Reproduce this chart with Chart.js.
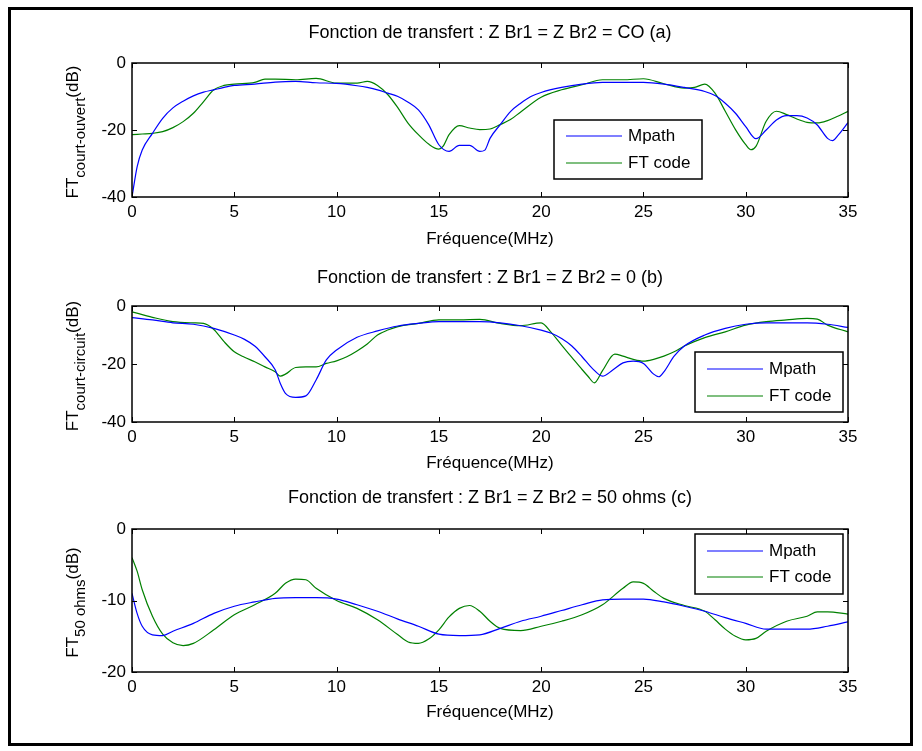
<!DOCTYPE html>
<html>
<head>
<meta charset="utf-8">
<title>Fonction de transfert</title>
<script src="https://cdn.jsdelivr.net/npm/chart.js@4.4.1/dist/chart.umd.min.js"></script>
<style>
    html, body { margin: 0; padding: 0; background: #fff; }
    #figure { position: relative; width: 922px; height: 751px; overflow: hidden; background: #fff; }
    #frame { position: absolute; left: 8px; top: 7px; width: 905px; height: 739px;
             border: 3px solid #000; box-sizing: border-box; }
    canvas { position: absolute; left: 0; }
</style>
</head>
<body>
<div id="figure">
    <div id="frame"></div>
    <canvas id="chartCO" width="922" height="256" style="top:0px"></canvas>
    <canvas id="chartCC" width="922" height="222" style="top:256px"></canvas>
    <canvas id="chart50" width="922" height="273" style="top:478px"></canvas>
</div>
<script>
// Tick labels shared by the three plots
const freqTicks = [0, 5, 10, 15, 20, 25, 30, 35];
const dbTicks40 = [-40, -20, 0];
const dbTicks20 = [-20, -10, 0];
const seriesNames = ['Mpath', 'FT code'];

// (a) ZBr1 = ZBr2 = CO
const coMpathFreq = [0, 0.25, 0.5, 1, 1.5, 2, 2.5, 3, 3.5, 4, 4.5, 5, 6, 7, 8, 9, 10, 11, 11.5, 12,
    12.5, 13, 13.5, 14, 14.5, 15, 15.5, 16, 16.5, 17, 17.25, 17.5, 18, 18.5, 19, 19.5, 20, 21, 22, 23,
    24, 25, 26, 27, 28, 28.5, 29, 29.5, 30, 30.5, 31, 31.5, 32, 32.5, 33, 33.5, 34, 34.25, 34.5, 35];
const coMpathDb = [-40, -31, -26, -21, -16.5, -13.4, -11.4, -9.8, -8.7, -8, -7.3, -6.7, -6.3, -5.7, -5.5, -5.9, -6.1, -6.8, -7.3, -8,
    -9, -10, -11.7, -14, -18.4, -24.4, -26.4, -24.6, -24.6, -26.4, -26, -22.5, -18.4, -14.5, -12, -10, -8.8, -7.3, -6.3, -5.8,
    -5.8, -5.8, -6.3, -7.3, -8.5, -9.7, -12, -15, -19, -22.6, -20, -17, -15.7, -15.7, -16.4, -18.5, -22.5, -23.2, -21.7, -17.8];
const coFtFreq = [0, 0.5, 1, 1.5, 2, 2.5, 3, 3.5, 4, 4.5, 5, 6, 6.5, 7, 8, 9, 10, 11, 11.5, 12,
    12.5, 13, 13.5, 14, 14.5, 15, 15.2, 15.5, 16, 16.5, 17, 17.5, 18, 18.5, 19, 20, 21, 22, 23, 24,
    25, 26, 27, 27.5, 28, 28.5, 29, 29.5, 30, 30.25, 30.5, 31, 31.5, 32, 32.5, 33, 33.5, 34, 34.5, 35];
const coFtDb = [-21.4, -21.2, -21, -20.5, -19.3, -17.5, -15, -11.5, -8, -6.7, -6.3, -5.8, -4.8, -4.8, -5, -4.6, -6, -6, -5.5, -6.7,
    -9.4, -13.4, -18, -21.4, -24.2, -25.7, -24.9, -21.4, -18.7, -19.4, -19.9, -19.7, -18.4, -16.9, -14.6, -10.2, -8, -6.5, -5, -5,
    -4.7, -6.2, -7.5, -7.3, -6.3, -9, -14.4, -19.9, -24.4, -25.9, -24.9, -17.4, -14.4, -15.4, -16.7, -17.7, -17.9, -17.2, -15.9, -14.4];

// (b) ZBr1 = ZBr2 = 0
const ccMpathFreq = [0, 1, 2, 3, 4, 5, 5.5, 6, 6.5, 7, 7.25, 7.5, 8, 8.5, 9, 9.5, 10, 11, 12, 13,
    14, 15, 16, 17, 18, 19, 20, 20.5, 21, 21.5, 22, 22.5, 23, 23.5, 24, 24.5, 25, 25.5, 25.75, 26,
    26.5, 27, 28, 29, 30, 31, 32, 33, 34, 35];
const ccMpathDb = [-4, -4.8, -5.8, -6.3, -7.7, -10, -11.5, -13.8, -17.5, -22, -26.7, -30.1, -31.5, -31, -25.5, -18.6, -15.2, -10.8, -8.6, -6.9,
    -6, -5.4, -5.4, -5.4, -5.8, -6.8, -8.3, -9.4, -11.2, -13.8, -17.5, -21.5, -24.2, -22.1, -19.6, -19, -19.8, -23.5, -24.4, -22.7,
    -17.3, -13.8, -10, -7.7, -6.3, -5.8, -5.8, -5.8, -6.3, -7.4];
const ccFtFreq = [0, 1, 2, 3, 3.5, 4, 4.5, 5, 5.5, 6, 6.5, 7, 7.25, 7.5, 8, 8.5, 9, 9.5, 10, 10.5,
    11, 11.5, 12, 12.5, 13, 14, 15, 16, 17, 18, 19, 20, 20.5, 21, 21.5, 22, 22.3, 22.6, 23, 23.6,
    24, 24.5, 25, 25.5, 26, 26.5, 27, 28, 29, 30, 31, 32, 33, 33.5, 34, 35];
const ccFtDb = [-2, -3.9, -5.4, -5.8, -6, -8.1, -12.3, -15.8, -17.7, -19.2, -21, -22.7, -24.2, -23.5, -21.2, -21, -21, -19.8, -18.9, -17.5,
    -15.5, -13.1, -10, -8.3, -7.1, -6, -4.8, -4.8, -4.6, -6, -6.8, -5.8, -9.2, -13.5, -17.7, -21.9, -24.3, -26.5, -22.3, -16.6,
    -17.3, -18.4, -19, -18.4, -17.3, -15.8, -13.8, -10.9, -8.9, -6.6, -5.4, -4.8, -4.3, -4.5, -6.6, -8.9];

// (c) ZBr1 = ZBr2 = 50 ohms
const ohmMpathFreq = [0, 0.25, 0.5, 1, 1.5, 2, 3, 4, 5, 6, 7, 8, 9, 10, 11, 12, 13, 14, 15, 16,
    17, 18, 19, 20, 21, 22, 23, 24, 25, 26, 27, 28, 29, 30, 31, 32, 33, 34, 35];
const ohmMpathDb = [-9, -11.8, -13.6, -14.8, -14.9, -14.3, -13.2, -11.8, -10.8, -10.2, -9.7, -9.6, -9.6, -9.8, -10.6, -11.5, -12.6, -13.6, -14.7, -14.9,
    -14.8, -13.9, -12.9, -12.2, -11.4, -10.6, -9.9, -9.8, -9.8, -10.2, -10.8, -11.5, -12.4, -13.2, -14, -14, -14, -13.6, -13];
const ohmFtFreq = [0, 0.25, 0.5, 1, 1.5, 2, 2.5, 3, 4, 5, 6, 7, 7.5, 8, 8.5, 9, 10, 11, 12, 13,
    13.5, 14, 14.5, 15, 15.5, 16, 16.5, 17, 17.5, 18, 19, 20, 21, 22, 23, 24, 24.5, 25, 25.5, 26,
    27, 28, 28.5, 29, 29.5, 30, 30.5, 31, 32, 33, 33.5, 34, 35];
const ohmFtDb = [-4, -5.9, -8.5, -12.2, -14.7, -15.9, -16.3, -16, -14.1, -12, -10.6, -9, -7.6, -7, -7.1, -8.3, -10, -11.1, -12.7, -14.8,
    -15.8, -16, -15.4, -14.1, -12.3, -11.1, -10.7, -11.5, -12.9, -13.9, -14.2, -13.6, -12.9, -12, -10.6, -8.3, -7.4, -7.6, -8.7, -9.7,
    -10.7, -11.5, -12.7, -14, -15, -15.5, -15.3, -14.3, -12.9, -12.2, -11.6, -11.6, -11.9];

// Common geometry of the axes boxes
const PLOT_LEFT = 132;
const PLOT_RIGHT = 848;
const X_AXIS_H = 55;
const FONT = '"Liberation Sans", Arial, sans-serif';

Chart.defaults.font.family = FONT;
Chart.defaults.font.size = 17;
Chart.defaults.color = '#000';

// Zip two arrays into {x, y} points
function toPoints(xs, ys) {
    return xs.map((x, i) => ({ x: x, y: ys[i] }));
}

// MATLAB-like box, inside ticks, subscript y label and inner legend
const matlabAxes = {
    id: 'matlabAxes',
    afterDatasetsDraw(chart, args, opts) {
        const { ctx, chartArea: a } = chart;
        const xs = chart.scales.x;
        const ys = chart.scales.y;
        ctx.save();
        ctx.strokeStyle = '#000';
        ctx.lineWidth = 1;
        ctx.beginPath();
        xs.ticks.forEach(t => {
            const px = Math.round(xs.getPixelForValue(t.value)) + 0.5;
            ctx.moveTo(px, a.bottom); ctx.lineTo(px, a.bottom - 5);
            ctx.moveTo(px, a.top); ctx.lineTo(px, a.top + 5);
        });
        ys.ticks.forEach(t => {
            const py = Math.round(ys.getPixelForValue(t.value)) + 0.5;
            ctx.moveTo(a.left, py); ctx.lineTo(a.left + 5, py);
            ctx.moveTo(a.right, py); ctx.lineTo(a.right - 5, py);
        });
        ctx.stroke();
        ctx.lineWidth = 1.5;
        ctx.strokeRect(a.left, a.top, a.right - a.left, a.bottom - a.top);
        ctx.restore();
    },
    afterDraw(chart, args, opts) {
        const { ctx, chartArea: a } = chart;
        ctx.save();

        // y label: FT_{sub}(dB), rotated
        const mainFont = '17px ' + FONT;
        const subFont = '15px ' + FONT;
        ctx.font = mainFont;
        const w1 = ctx.measureText('FT').width;
        const w3 = ctx.measureText('(dB)').width;
        ctx.font = subFont;
        const w2 = ctx.measureText(opts.ySub).width;
        const total = w1 + w2 + w3;
        ctx.translate(78, (a.top + a.bottom) / 2 + 2);
        ctx.rotate(-Math.PI / 2);
        ctx.fillStyle = '#000';
        ctx.textBaseline = 'alphabetic';
        ctx.textAlign = 'left';
        let x = -total / 2;
        ctx.font = mainFont;
        ctx.fillText('FT', x, 0);
        x += w1;
        ctx.font = subFont;
        ctx.fillText(opts.ySub, x, 7);
        x += w2;
        ctx.font = mainFont;
        ctx.fillText('(dB)', x, 0);
        ctx.setTransform(1, 0, 0, 1, 0, 0);

        // legend box
        const lg = opts.legend;
        ctx.fillStyle = '#fff';
        ctx.fillRect(lg.x, lg.y, lg.w, lg.h);
        ctx.strokeStyle = '#000';
        ctx.lineWidth = 1.5;
        ctx.strokeRect(lg.x, lg.y, lg.w, lg.h);
        ctx.font = '17px ' + FONT;
        ctx.textBaseline = 'middle';
        chart.data.datasets.forEach((ds, i) => {
            const ry = lg.y + lg.rows[i];
            ctx.strokeStyle = ds.borderColor;
            ctx.lineWidth = 1.2;
            ctx.beginPath();
            ctx.moveTo(lg.x + 12, ry);
            ctx.lineTo(lg.x + 68, ry);
            ctx.stroke();
            ctx.fillStyle = '#000';
            ctx.fillText(ds.label, lg.x + 74, ry);
        });
        ctx.restore();
    }
};

// Build one subplot; cfg holds local pixel targets for this canvas
function buildChart(id, cfg) {
    const canvas = document.getElementById(id);
    const h = canvas.height;
    const titleLine = 18 * 1.2;
    const lineStyle = { borderWidth: 1.2, pointRadius: 0, fill: false, cubicInterpolationMode: 'monotone' };

    return new Chart(canvas, {
        type: 'line',
        data: {
            datasets: [
                Object.assign({ label: seriesNames[0], data: toPoints(cfg.mpathFreq, cfg.mpathDb), borderColor: '#0000ff' }, lineStyle),
                Object.assign({ label: seriesNames[1], data: toPoints(cfg.ftFreq, cfg.ftDb), borderColor: '#008000' }, lineStyle)
            ]
        },
        options: {
            responsive: false,
            animation: false,
            devicePixelRatio: 1,
            layout: {
                padding: { left: 0, right: 922 - PLOT_RIGHT, top: 0, bottom: h - cfg.plotBottom - X_AXIS_H }
            },
            scales: {
                x: {
                    type: 'linear',
                    min: freqTicks[0],
                    max: freqTicks[freqTicks.length - 1],
                    afterBuildTicks: s => { s.ticks = freqTicks.map(v => ({ value: v })); },
                    afterFit: s => { s.height = X_AXIS_H; },
                    grid: { display: false, drawTicks: false },
                    border: { display: false },
                    ticks: { padding: 5.5, maxRotation: 0, autoSkip: false },
                    title: {
                        display: true,
                        text: 'Fréquence(MHz)',
                        padding: { top: 0, bottom: X_AXIS_H - 10.2 - cfg.xTitleGap }
                    }
                },
                y: {
                    type: 'linear',
                    min: cfg.yTicks[0],
                    max: cfg.yTicks[cfg.yTicks.length - 1],
                    afterBuildTicks: s => { s.ticks = cfg.yTicks.map(v => ({ value: v })); },
                    afterFit: s => { s.width = PLOT_LEFT; },
                    grid: { display: false, drawTicks: false },
                    border: { display: false },
                    ticks: { padding: 6, autoSkip: false }
                }
            },
            plugins: {
                legend: { display: false },
                tooltip: { enabled: false },
                title: {
                    display: true,
                    fullSize: false,
                    text: cfg.title,
                    color: '#000',
                    font: { size: 18, weight: 'normal' },
                    padding: { top: cfg.titleY - titleLine / 2, bottom: cfg.plotTop - cfg.titleY - titleLine / 2 }
                },
                matlabAxes: { ySub: cfg.ySub, legend: cfg.legend }
            }
        },
        plugins: [matlabAxes]
    });
}

document.addEventListener('DOMContentLoaded', function() {
    buildChart('chartCO', {
        title: 'Fonction de transfert : Z Br1 = Z Br2 = CO (a)',
        ySub: 'court-ouvert',
        yTicks: dbTicks40,
        mpathFreq: coMpathFreq, mpathDb: coMpathDb,
        ftFreq: coFtFreq, ftDb: coFtDb,
        titleY: 33, plotTop: 63, plotBottom: 197, xTitleGap: 42,
        legend: { x: 554, y: 120, w: 148, h: 59, rows: [16, 43] }
    });
    buildChart('chartCC', {
        title: 'Fonction de transfert : Z Br1 = Z Br2 = 0 (b)',
        ySub: 'court-circuit',
        yTicks: dbTicks40,
        mpathFreq: ccMpathFreq, mpathDb: ccMpathDb,
        ftFreq: ccFtFreq, ftDb: ccFtDb,
        titleY: 22, plotTop: 50, plotBottom: 166, xTitleGap: 41,
        legend: { x: 695, y: 96, w: 148, h: 60, rows: [17, 44] }
    });
    buildChart('chart50', {
        title: 'Fonction de transfert : Z Br1 = Z Br2 = 50 ohms (c)',
        ySub: '50 ohms',
        yTicks: dbTicks20,
        mpathFreq: ohmMpathFreq, mpathDb: ohmMpathDb,
        ftFreq: ohmFtFreq, ftDb: ohmFtDb,
        titleY: 20, plotTop: 51, plotBottom: 194, xTitleGap: 40,
        legend: { x: 695, y: 56, w: 148, h: 60, rows: [17, 43] }
    });
});
</script>
</body>
</html>
